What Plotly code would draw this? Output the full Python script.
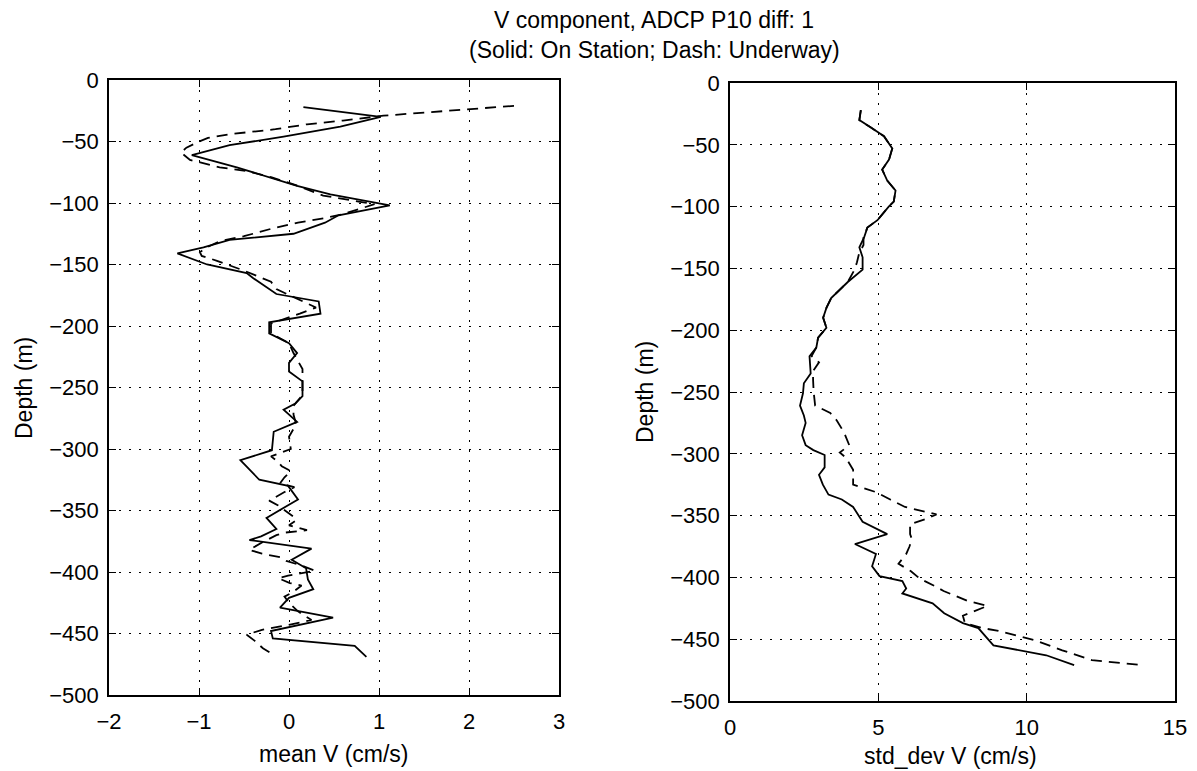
import plotly.graph_objects as go

# ---- data ----
depth_mean_station = [-22, -30, -38, -46, -53, -61, -71, -79, -86, -93, -98, -102, -110, -116, -125,
                      -130, -136, -141, -150, -157, -161, -174, -180, -190, -197, -206, -214, -222, -230, -237,
                      -245, -257, -263, -268, -278, -286, -301, -309, -325, -330, -341, -356, -365, -371, -374,
                      -381, -390, -397, -406, -414, -421, -429, -437, -448, -454, -460, -469]
mean_station = [0.16, 1.02, 0.57, -0.06, -0.66, -1.08, -0.58, -0.21, 0.09, 0.46, 0.83, 1.12, 0.55, 0.40, 0.05,
                -0.66, -0.95, -1.24, -0.91, -0.47, -0.40, -0.14, 0.33, 0.35, -0.22, -0.22, 0.00, 0.09, 0.00, 0.00,
                0.15, 0.15, 0.07, -0.06, 0.09, -0.17, -0.19, -0.54, -0.33, -0.01, 0.10, -0.25, -0.14, -0.31, -0.44,
                0.25, 0.03, 0.19, 0.21, 0.27, 0.00, -0.10, 0.49, -0.20, -0.18, 0.73, 0.86]

depth_mean_underway = [-21, -25, -29, -33, -36, -40, -44, -47, -50, -55, -59, -65, -71, -74, -79,
                       -86, -94, -99, -101, -109, -112, -116, -121, -127, -131, -136, -140, -143, -147, -155,
                       -164, -170, -178, -185, -190, -194, -198, -206, -214, -222, -229, -235, -245, -256, -265,
                       -272, -280, -290, -300, -306, -310, -314, -318, -323, -328, -331, -335, -342, -346, -351,
                       -355, -358, -362, -366, -368, -370, -376, -382, -385, -388, -391, -395, -399, -403, -405,
                       -409, -411, -416, -420, -425, -432, -439, -443, -447, -451, -456, -462, -466, -469]
mean_underway = [2.50, 1.80, 1.05, 0.60, 0.20, -0.15, -0.65, -0.90, -1.00, -1.14, -1.20, -1.10, -0.77, -0.47, -0.20,
                 0.10, 0.38, 0.79, 0.95, 0.60, 0.42, 0.10, -0.20, -0.50, -0.77, -0.91, -0.99, -0.97, -0.80, -0.50,
                 -0.20, -0.14, 0.10, 0.30, 0.12, -0.05, -0.20, -0.20, 0.00, 0.05, 0.10, 0.15, 0.15, 0.15, 0.05,
                 0.05, 0.08, 0.00, 0.02, -0.20, -0.13, -0.08, 0.02, -0.05, -0.10, 0.06, -0.05, -0.22, -0.12, -0.02,
                 0.05, 0.08, 0.00, 0.20, -0.05, -0.14, -0.30, -0.44, -0.30, -0.10, -0.03, 0.15, 0.29, -0.01, -0.12,
                 0.01, 0.14, 0.05, -0.05, 0.00, 0.10, 0.25, 0.00, -0.30, -0.47, -0.38, -0.29, -0.20, -0.16]

depth_std_station = [-22, -30, -36, -43, -53, -62, -70, -79, -87, -96, -100, -111, -117, -125, -133,
                     -141, -151, -161, -174, -182, -190, -198, -206, -214, -221, -235, -243, -251, -261, -269,
                     -275, -285, -293, -297, -301, -311, -317, -325, -333, -337, -343, -355, -365, -373, -381,
                     -391, -399, -403, -409, -413, -421, -429, -437, -441, -455, -463, -471]
std_station = [4.41, 4.36, 4.75, 5.19, 5.47, 5.36, 5.13, 5.30, 5.58, 5.52, 5.35, 4.97, 4.63, 4.52, 4.36,
               4.47, 4.47, 3.97, 3.41, 3.25, 3.14, 3.25, 2.97, 2.91, 2.68, 2.72, 2.49, 2.46, 2.36, 2.49,
               2.55, 2.43, 2.55, 2.81, 3.19, 3.19, 3.00, 3.13, 3.32, 3.77, 4.15, 4.47, 5.30, 4.21, 4.92,
               4.79, 5.04, 5.81, 5.94, 5.81, 6.83, 7.22, 7.85, 8.37, 8.88, 10.66, 11.60]

depth_std_underway = [-22, -30, -36, -43, -53, -62, -70, -79, -87, -96, -100, -111, -117, -125, -131,
                      -138, -145, -151, -161, -174, -182, -190, -198, -206, -214, -221, -226, -233, -240, -250,
                      -261, -267, -273, -283, -293, -299, -303, -313, -325, -331, -337, -343, -349, -353, -357,
                      -365, -369, -375, -381, -389, -395, -401, -407, -411, -415, -419, -423, -431, -437, -441,
                      -443, -451, -459, -467, -471]
std_underway = [4.41, 4.36, 4.75, 5.19, 5.47, 5.36, 5.13, 5.30, 5.58, 5.52, 5.35, 4.97, 4.63, 4.50, 4.50,
                4.35, 4.28, 4.20, 3.97, 3.41, 3.25, 3.14, 3.25, 2.97, 2.91, 2.75, 3.00, 2.80, 2.80, 2.82,
                2.87, 3.38, 3.60, 3.85, 4.02, 3.70, 3.90, 4.15, 4.15, 4.92, 5.40, 5.90, 6.96, 6.58, 6.07,
                6.07, 6.13, 6.05, 5.94, 5.68, 6.10, 6.40, 6.90, 7.20, 7.60, 8.00, 8.68, 7.85, 7.92, 8.50,
                9.00, 10.30, 11.20, 12.20, 13.90]

title_lines = ["V component, ADCP P10 diff: 1", "(Solid: On Station; Dash: Underway)"]
x_titles = ["mean V (cm/s)", "std_dev V (cm/s)"]
y_title = "Depth (m)"

# ---- figure ----
W, H = 1197, 771
FONT = "Liberation Sans, Arial, Helvetica, sans-serif"
FS = 23
TFS = 22
solid = dict(color="black", width=1.8)
dashed = dict(color="black", width=1.8, dash="11px,7px")

fig = go.Figure()
fig.add_trace(go.Scatter(x=mean_station, y=depth_mean_station, mode="lines", line=solid,
                         xaxis="x", yaxis="y", showlegend=False))
fig.add_trace(go.Scatter(x=mean_underway, y=depth_mean_underway, mode="lines", line=dashed,
                         xaxis="x", yaxis="y", showlegend=False))
fig.add_trace(go.Scatter(x=std_station, y=depth_std_station, mode="lines", line=solid,
                         xaxis="x2", yaxis="y2", showlegend=False))
fig.add_trace(go.Scatter(x=std_underway, y=depth_std_underway, mode="lines", line=dashed,
                         xaxis="x2", yaxis="y2", showlegend=False))

axis_common = dict(
    showline=True, linecolor="black", linewidth=1.6, mirror="ticks",
    ticks="inside", ticklen=7, tickwidth=1.2, tickcolor="black",
    showgrid=True, gridcolor="black", gridwidth=1, griddash="2px,8px",
    zeroline=False, tickfont=dict(family=FONT, size=TFS, color="black"),
    automargin=False,
)

def px_x(p):
    return p / W

def px_y(p):
    return 1 - p / H

fig.update_layout(
    width=W, height=H,
    margin=dict(l=0, r=0, t=0, b=0),
    paper_bgcolor="white", plot_bgcolor="white",
    font=dict(family=FONT, size=FS, color="black"),
    xaxis=dict(domain=[px_x(109), px_x(559)], range=[-2, 3], tickvals=[-2, -1, 0, 1, 2, 3],
               anchor="y", ticklabelstandoff=6, **axis_common),
    yaxis=dict(domain=[px_y(695), px_y(80)], range=[-500, 0], dtick=50,
               anchor="x", ticklabelstandoff=4, **axis_common),
    xaxis2=dict(domain=[px_x(730), px_x(1175)], range=[0, 15], tickvals=[0, 5, 10, 15],
                anchor="y2", ticklabelstandoff=6, **axis_common),
    yaxis2=dict(domain=[px_y(701), px_y(83)], range=[-500, 0], dtick=50,
                anchor="x2", ticklabelstandoff=4, **axis_common),
)

ann = []
ann.append(dict(text=title_lines[0], x=px_x(654), y=px_y(20), xref="paper", yref="paper",
                showarrow=False, xanchor="center", yanchor="middle", font=dict(size=FS)))
ann.append(dict(text=title_lines[1], x=px_x(654), y=px_y(50), xref="paper", yref="paper",
                showarrow=False, xanchor="center", yanchor="middle", font=dict(size=FS)))
ann.append(dict(text=x_titles[0], x=px_x(334), y=px_y(754), xref="paper", yref="paper",
                showarrow=False, xanchor="center", yanchor="middle", font=dict(size=FS)))
ann.append(dict(text=x_titles[1], x=px_x(950), y=px_y(756), xref="paper", yref="paper",
                showarrow=False, xanchor="center", yanchor="middle", font=dict(size=FS)))
ann.append(dict(text=y_title, x=px_x(24), y=px_y(388), xref="paper", yref="paper", textangle=-90,
                showarrow=False, xanchor="center", yanchor="middle", font=dict(size=FS)))
ann.append(dict(text=y_title, x=px_x(645), y=px_y(392), xref="paper", yref="paper", textangle=-90,
                showarrow=False, xanchor="center", yanchor="middle", font=dict(size=FS)))
fig.update_layout(annotations=ann)

fig.write_html("out.html")
